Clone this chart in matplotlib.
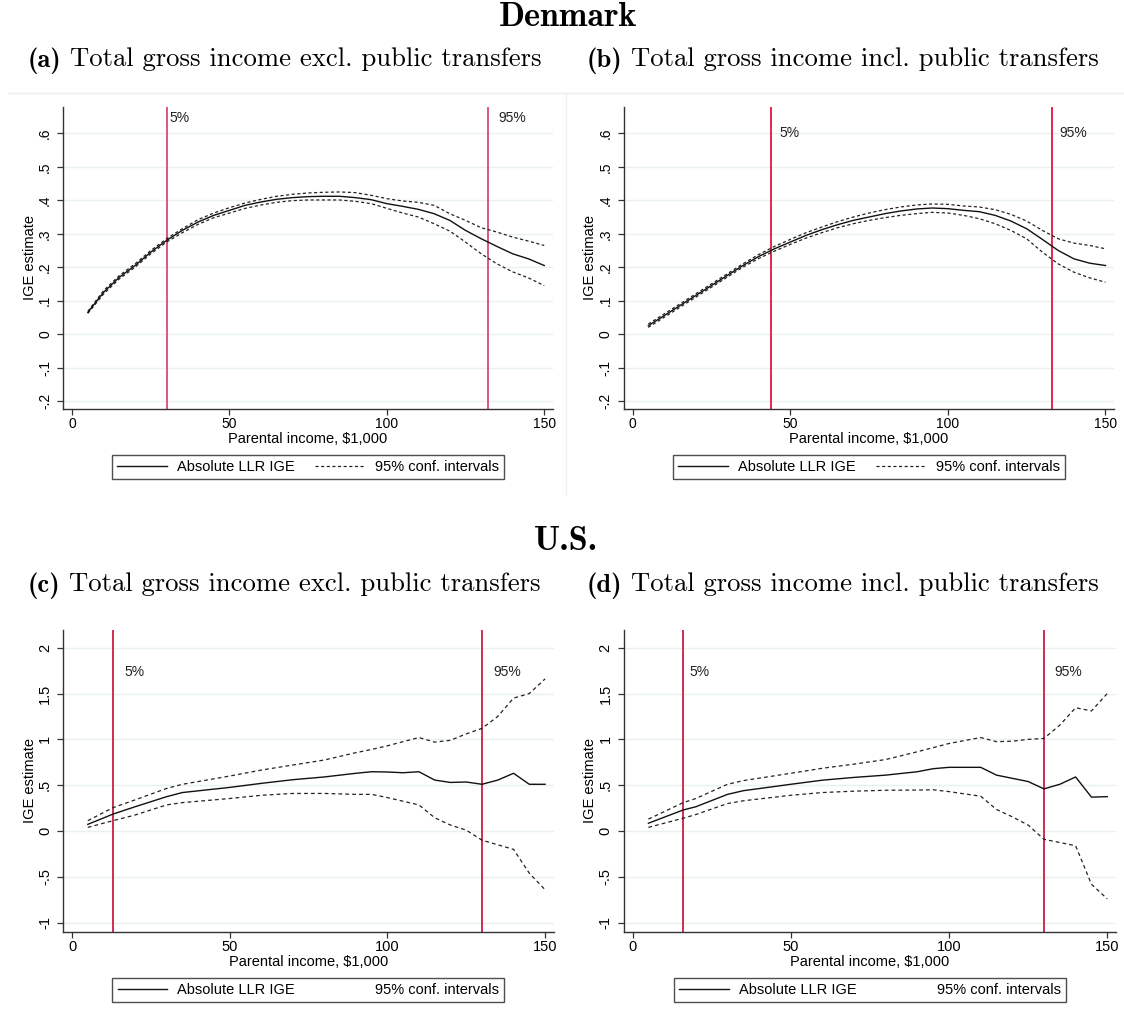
import matplotlib
matplotlib.use("Agg")
import matplotlib.pyplot as plt
from matplotlib.lines import Line2D
import numpy as np

plt.rcParams['font.family'] = ['Liberation Sans', 'DejaVu Sans']

# ---- data -------------------------------------------------------------
# Denmark: smooth LLR estimates on a 5k grid
dk_x = [5, 10, 15, 20, 25, 30, 35, 40, 45, 50, 55, 60, 65, 70, 75,
        80, 85, 90, 95, 100, 105, 110, 115, 120, 125, 130, 135, 140, 145, 150]

dk_a_ige = [0.065, 0.125, 0.17, 0.205, 0.245, 0.28, 0.31, 0.335, 0.355, 0.37,
            0.385, 0.395, 0.403, 0.408, 0.411, 0.412, 0.412, 0.408, 0.402, 0.39,
            0.382, 0.373, 0.36, 0.34, 0.31, 0.285, 0.262, 0.24, 0.225, 0.205]
dk_a_hi = [0.068, 0.13, 0.175, 0.21, 0.25, 0.285, 0.315, 0.342, 0.362, 0.378,
           0.392, 0.403, 0.412, 0.418, 0.422, 0.424, 0.425, 0.423, 0.415, 0.405,
           0.398, 0.394, 0.385, 0.36, 0.34, 0.318, 0.305, 0.29, 0.278, 0.265]
dk_a_lo = [0.062, 0.12, 0.165, 0.2, 0.24, 0.275, 0.303, 0.328, 0.348, 0.362,
           0.376, 0.386, 0.394, 0.399, 0.401, 0.401, 0.401, 0.397, 0.39, 0.376,
           0.362, 0.35, 0.33, 0.308, 0.275, 0.24, 0.21, 0.186, 0.168, 0.145]

dk_b_ige = [0.025, 0.055, 0.085, 0.115, 0.145, 0.175, 0.205, 0.232, 0.255, 0.275,
            0.295, 0.312, 0.327, 0.34, 0.35, 0.36, 0.368, 0.374, 0.377, 0.375,
            0.37, 0.366, 0.355, 0.338, 0.315, 0.283, 0.25, 0.225, 0.212, 0.205]
dk_b_hi = [0.03, 0.06, 0.09, 0.12, 0.15, 0.18, 0.21, 0.238, 0.262, 0.283,
           0.303, 0.32, 0.336, 0.35, 0.362, 0.372, 0.38, 0.386, 0.389, 0.388,
           0.383, 0.38, 0.372, 0.358, 0.338, 0.31, 0.285, 0.272, 0.265, 0.255]
dk_b_lo = [0.02, 0.05, 0.08, 0.11, 0.14, 0.17, 0.2, 0.226, 0.248, 0.268,
           0.287, 0.303, 0.318, 0.33, 0.34, 0.348, 0.355, 0.36, 0.364, 0.362,
           0.355, 0.345, 0.33, 0.31, 0.285, 0.245, 0.21, 0.185, 0.168, 0.155]

# U.S.
us_c_x = [5, 13, 20, 30, 35, 50, 60, 70, 80, 90, 95, 100, 105, 110,
          115, 120, 125, 130, 135, 140, 145, 150]
us_c_ige = [0.073, 0.185, 0.265, 0.375, 0.42, 0.476, 0.52, 0.56, 0.59, 0.63, 0.647,
            0.644, 0.636, 0.647, 0.556, 0.53, 0.535, 0.51, 0.556, 0.63, 0.51, 0.51]
us_c_hi = [0.113, 0.255, 0.34, 0.465, 0.51, 0.60, 0.665, 0.72, 0.775, 0.855, 0.89,
           0.93, 0.975, 1.02, 0.97, 0.99, 1.06, 1.12, 1.25, 1.45, 1.50, 1.66]
us_c_lo = [0.04, 0.113, 0.175, 0.285, 0.31, 0.355, 0.39, 0.41, 0.41, 0.40, 0.40,
           0.365, 0.325, 0.285, 0.145, 0.065, 0.01, -0.10, -0.15, -0.20, -0.46, -0.64]

us_d_x = [5, 16, 20, 30, 35, 50, 60, 70, 80, 90, 95, 100, 110,
          115, 120, 125, 130, 135, 140, 145, 150]
us_d_ige = [0.085, 0.23, 0.265, 0.40, 0.44, 0.51, 0.555, 0.585, 0.61, 0.647, 0.68,
            0.695, 0.695, 0.61, 0.575, 0.54, 0.46, 0.51, 0.59, 0.37, 0.375]
us_d_hi = [0.13, 0.31, 0.355, 0.51, 0.55, 0.63, 0.685, 0.73, 0.78, 0.865, 0.91,
           0.955, 1.02, 0.975, 0.98, 1.0, 1.01, 1.155, 1.345, 1.31, 1.50]
us_d_lo = [0.04, 0.14, 0.18, 0.30, 0.33, 0.39, 0.42, 0.435, 0.445, 0.447, 0.45,
           0.43, 0.38, 0.235, 0.155, 0.065, -0.09, -0.125, -0.16, -0.58, -0.74]

pct_a = [30, 132]
pct_b = [44, 133]
pct_c = [13, 130]
pct_d = [16, 130]

dk_yticks = [-0.2, -0.1, 0, 0.1, 0.2, 0.3, 0.4, 0.5, 0.6]
dk_yticklabels = ["-.2", "-.1", "0", ".1", ".2", ".3", ".4", ".5", ".6"]
us_yticks = [-1, -0.5, 0, 0.5, 1, 1.5, 2]
us_yticklabels = ["-1", "-.5", "0", ".5", "1", "1.5", "2"]
xticks = [0, 50, 100, 150]

cap_tags = ["(a)", "(b)", "(c)", "(d)"]
cap_texts = ["Total gross income excl. public transfers",
             "Total gross income incl. public transfers",
             "Total gross income excl. public transfers",
             "Total gross income incl. public transfers"]

# ---- figure -----------------------------------------------------------
W, H = 1124, 1019
fig = plt.figure(figsize=(W / 100, H / 100), dpi=100)


def px_axes(l, t, r, b):
    return fig.add_axes([l / W, 1 - b / H, (r - l) / W, (b - t) / H])


def panel(ax, x, ige, hi, lo, pcts, pct_pos, yticks, ylabels, ylim,
          red, dash, show_dash_key, xlab_off, tick_fs):
    ax.set_xlim(-2.8, 152.7)
    ax.set_ylim(*ylim)
    for yt in yticks:
        ax.axhline(yt, color="#e9f0f2", lw=1.0, zorder=0)
    for p in pcts:
        ax.axvline(p, color=red, lw=1.3, zorder=1)
    for (tx, ty), s in zip(pct_pos, ["5%", "95%"]):
        ax.text(tx, ty, s, fontsize=10, ha="left", va="center", color="#222222")
    ax.plot(x, hi, color="#222222", lw=0.9, ls=dash, zorder=2)
    ax.plot(x, lo, color="#222222", lw=0.9, ls=dash, zorder=2)
    ax.plot(x, ige, color="#111111", lw=1.0, zorder=3)

    for s in ["top", "right"]:
        ax.spines[s].set_visible(False)
    for s in ["left", "bottom"]:
        ax.spines[s].set_color("#333333")
        ax.spines[s].set_linewidth(1.0)
    ax.set_xticks(xticks)
    ax.set_xticklabels([str(v) for v in xticks], fontsize=tick_fs)
    ax.set_yticks(yticks)
    ax.set_yticklabels(ylabels, fontsize=tick_fs, rotation=90, va="center")
    ax.tick_params(axis="both", direction="out", length=4, width=0.9,
                   color="#333333")
    ax.tick_params(axis="x", pad=2)
    ax.tick_params(axis="y", pad=4)
    ax.text(0.5, xlab_off, "Parental income, \\$1,000", transform=ax.transAxes,
            ha="center", va="center", fontsize=10.5)
    ax.text(-0.068, 0.5, "IGE estimate", transform=ax.transAxes, rotation=90,
            ha="center", va="center", fontsize=10.5)

    h1 = Line2D([], [], color="#111111", lw=1.0)
    if show_dash_key:
        h2 = Line2D([], [], color="#222222", lw=0.9, ls=(0, (2.5, 2)))
    else:
        h2 = Line2D([], [], linestyle="None")
    leg = ax.legend([h1, h2], ["Absolute LLR IGE", "95% conf. intervals"],
                    loc="upper center", bbox_to_anchor=(0.5, -0.152), ncol=2,
                    fontsize=10.5, frameon=True, fancybox=False,
                    handlelength=3.4, handletextpad=0.7, columnspacing=1.4,
                    borderpad=0.35, borderaxespad=0)
    leg.get_frame().set_edgecolor("#222222")
    leg.get_frame().set_linewidth(1.0)


dk_ylim = (-0.224, 0.679)
us_ylim = (-1.098, 2.193)

ax_a = px_axes(63.3, 107, 552.7, 409)
panel(ax_a, dk_x, dk_a_ige, dk_a_hi, dk_a_lo, pct_a,
      [(31.0, 0.645), (135.3, 0.645)], dk_yticks, dk_yticklabels, dk_ylim,
      "#d94a70", (0, (2.5, 2)), True, -0.099, 10)

ax_b = px_axes(623.7, 107, 1114, 409)
panel(ax_b, dk_x, dk_b_ige, dk_b_hi, dk_b_lo, pct_b,
      [(46.5, 0.6), (135.5, 0.6)], dk_yticks, dk_yticklabels, dk_ylim,
      "#e0163f", (0, (2.5, 2)), True, -0.099, 10)

ax_c = px_axes(63.2, 630, 553.6, 931.7)
panel(ax_c, us_c_x, us_c_ige, us_c_hi, us_c_lo, pct_c,
      [(16.6, 1.735), (133.5, 1.735)], us_yticks, us_yticklabels, us_ylim,
      "#cc1d45", (0, (3, 2.5)), False, -0.10, 10.5)

ax_d = px_axes(623.7, 630, 1115.8, 931.7)
panel(ax_d, us_d_x, us_d_ige, us_d_hi, us_d_lo, pct_d,
      [(17.9, 1.735), (133.4, 1.735)], us_yticks, us_yticklabels, us_ylim,
      "#cc1d45", (0, (3, 2.5)), False, -0.10, 10.5)

# ---- titles -------------------------------------------------------------
fig.text(568 / W, 1 - 18 / H, "Denmark", fontfamily="cmb10", fontsize=24.5,
         ha="center", va="center")
fig.text(566 / W, 1 - 541 / H, "U.S.", fontfamily="cmb10", fontsize=24.5,
         ha="center", va="center")

renderer = fig.canvas.get_renderer()
cap_pos = [(28, 57), (587, 57), (28, 582), (587, 582)]
for (cx, cy), tag, txt in zip(cap_pos, cap_tags, cap_texts):
    t = fig.text(cx / W, 1 - cy / H, tag, fontfamily="cmb10", fontsize=19.2,
                 ha="left", va="center_baseline")
    ext = t.get_window_extent(renderer)
    fig.text((ext.x1 + 8.5) / W, 1 - cy / H, txt, fontfamily="cmr10",
             fontsize=19.2, ha="left", va="center_baseline")

# faint border of the Denmark graph region
fig.add_artist(Line2D([8 / W, 1], [1 - 93 / H, 1 - 93 / H], color="#ececec", lw=1))
fig.add_artist(Line2D([566 / W, 566 / W], [1 - 93 / H, 1 - 495 / H], color="#f2f2f2", lw=1))

fig.savefig("out.png", dpi=100, facecolor="white")
